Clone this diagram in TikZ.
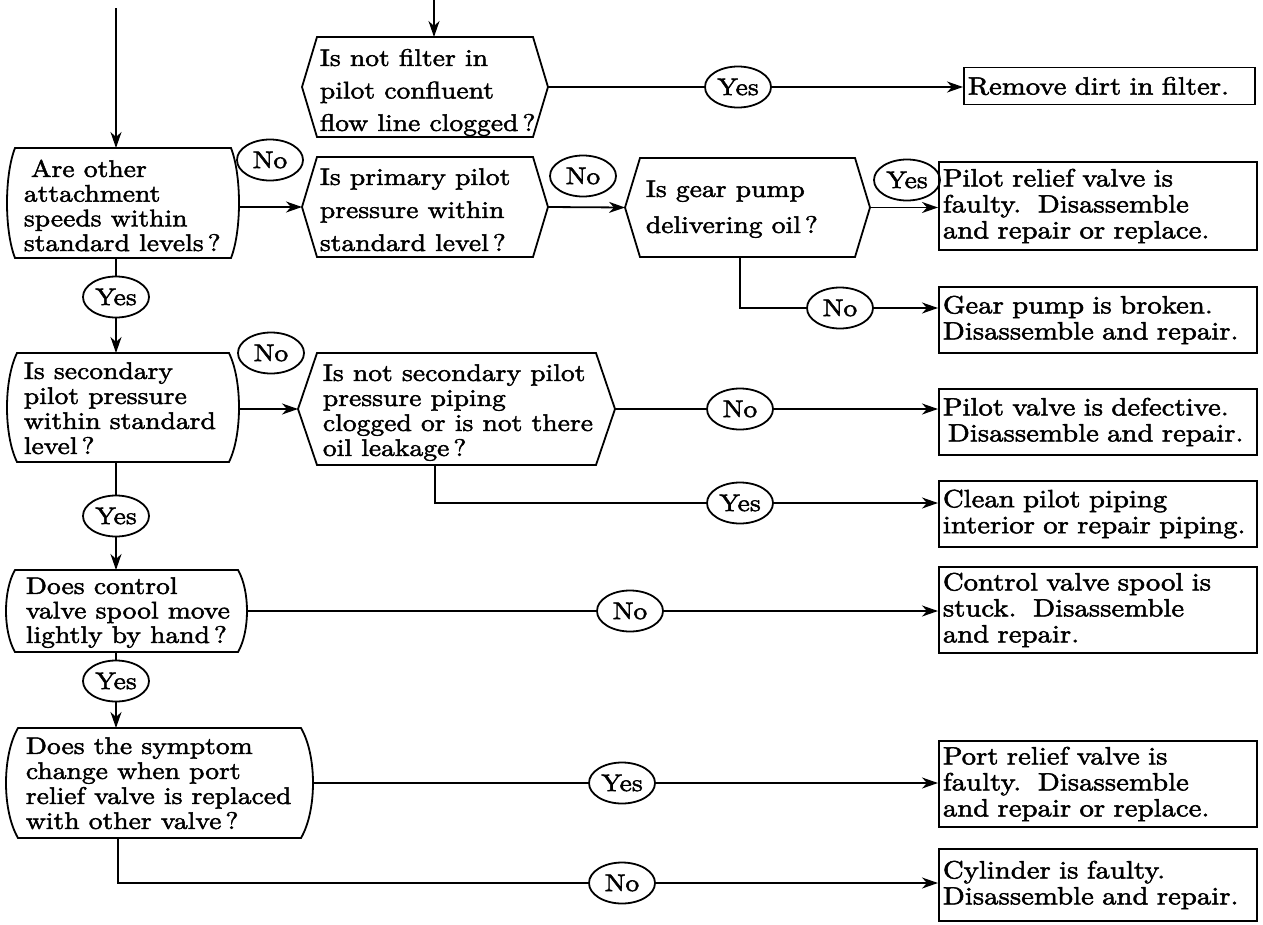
\documentclass[tikz,border=0pt]{standalone}
\usepackage{fontspec}
\setmainfont{lmroman10-regular.otf}[FakeStretch=1.15,FakeBold=2]
\usetikzlibrary{arrows.meta,shapes.geometric}
\newcommand\tstr{\rule{0pt}{19.2pt}}
\newcommand\flowhex[6]{%
  \coordinate (#1-l) at ({#2-#6},{(#4+#5)/2});
  \coordinate (#1-r) at ({#3+#6},{(#4+#5)/2});
  \draw[line join=miter] (#2,#4) -- (#3,#4) -- (#1-r) -- (#3,#5) -- (#2,#5) -- (#1-l) -- cycle;
}
\newcommand\flowcurv[6]{%
  \coordinate (#1-l) at ({#2-#6},{(#4+#5)/2});
  \coordinate (#1-r) at ({#3+#6},{(#4+#5)/2});
  \draw (#2,#4) -- (#3,#4) .. controls ({#3+4*#6/3},{#4+(#5-#4)/4}) and ({#3+4*#6/3},{#5-(#5-#4)/4}) .. (#3,#5) -- (#2,#5) .. controls ({#2-4*#6/3},{#5-(#5-#4)/4}) and ({#2-4*#6/3},{#4+(#5-#4)/4}) .. (#2,#4) -- cycle;
}
\begin{document}
\begin{tikzpicture}[x=1pt,y=-1pt,line width=1.8pt,
  every node/.style={font=\fontsize{24}{25}\selectfont},
  arr/.style={-{Stealth[length=16pt,width=11pt,inset=5pt]}},
  lab/.style={draw,ellipse,inner sep=0pt,minimum width=66pt,minimum height=41pt},
  qtext/.style={anchor=north west,inner sep=0pt,align=left},
  rbox/.style={draw,anchor=west,inner xsep=4pt,inner ysep=0pt,text width=310pt,align=left,
    font=\fontsize{25}{26}\selectfont},
]
\useasboundingbox (0,0) rectangle (1263,924);

% decision shapes
\flowhex{B0}{317}{533}{37}{137}{15}
\flowcurv{A1}{15}{231}{148}{258}{8}
\flowhex{B1}{317}{533}{157}{257}{15}
\flowhex{C1}{640}{855}{158}{257}{15}
\flowcurv{A2}{17}{229}{353}{462}{10}
\flowhex{B2}{317}{596}{353}{465}{19}
\flowcurv{A3}{15}{238}{570}{652}{9}
\flowcurv{A4}{18}{301}{728}{838}{12}

% texts of decisions
\node[qtext,font=\fontsize{24}{32.5}\selectfont] (B0t) at (319,45.8) {\tstr Is not filter in\\pilot confluent\\flow line clogged\,?};
\node[qtext,font=\fontsize{24}{24.7}\selectfont] (A1t) at (23,156.8) {\tstr\hspace*{7pt}Are other\\attachment\\speeds within\\standard levels\,?};
\node[qtext,font=\fontsize{24}{33}\selectfont] (B1t) at (319,164.8) {\tstr Is primary pilot\\pressure within\\standard level\,?};
\node[qtext,font=\fontsize{24}{36}\selectfont] (C1t) at (645,176.8) {\tstr Is gear pump\\delivering oil\,?};
\node[qtext,font=\fontsize{24}{25}\selectfont] (A2t) at (23,358.8) {\tstr Is secondary\\pilot pressure\\within standard\\level\,?};
\node[qtext,font=\fontsize{24}{25}\selectfont] (B2t) at (322,360.8) {\tstr Is not secondary pilot\\pressure piping\\clogged or is not there\\oil leakage\,?};
\node[qtext,font=\fontsize{24}{24.5}\selectfont] (A3t) at (25,573.8) {\tstr Does control\\valve spool move\\lightly by hand\,?};
\node[qtext,font=\fontsize{24}{25}\selectfont] (A4t) at (25,733.8) {\tstr Does the symptom\\change when port\\relief valve is replaced\\with other valve\,?};

% result boxes
\node[rbox,text width=283pt,minimum height=37pt] (R1) at (963,86) {Remove dirt in filter.};
\node[rbox,minimum height=88pt] (R2) at (938,206) {Pilot relief valve is\\faulty.\ \ Disassemble\\and repair or replace.};
\node[rbox,minimum height=66pt] (R3) at (938,320) {Gear pump is broken.\\Disassemble and repair.};
\node[rbox,minimum height=66pt] (R4) at (938,422) {Pilot valve is defective.\\\hspace*{5pt}Disassemble and repair.};
\node[rbox,minimum height=66pt] (R5) at (938,514) {Clean pilot piping\\interior or repair piping.};
\node[rbox,minimum height=86pt] (R6) at (938,610) {Control valve spool is\\stuck.\ \ Disassemble\\and repair.};
\node[rbox,minimum height=86pt] (R7) at (938,784) {Port relief valve is\\faulty.\ \ Disassemble\\and repair or replace.};
\node[rbox,minimum height=72pt] (R8) at (938,885) {Cylinder is faulty.\\Disassemble and repair.};

% labels
\node[lab] (yes0) at (738,87) {Yes};
\node[lab] (no1) at (270,160) {No};
\node[lab] (no2) at (583,176) {No};
\node[lab] (yes3) at (907,180) {Yes};
\node[lab] (no4) at (840,308) {No};
\node[lab] (yes1) at (116,297) {Yes};
\node[lab] (no3) at (271,353) {No};
\node[lab] (no5) at (740,409) {No};
\node[lab] (yes4) at (740,503) {Yes};
\node[lab] (yes2) at (116,516) {Yes};
\node[lab] (no6) at (630,611) {No};
\node[lab] (yes5) at (116,681) {Yes};
\node[lab] (yes6) at (622,783) {Yes};
\node[lab] (no7) at (622,883) {No};

% coordinates
\coordinate (st1) at (116,8);
\coordinate (A1-in) at (116,148);
\coordinate (st2) at (434,0);
\coordinate (B0-in) at (434,37);
\coordinate (A1-out) at (116,258);
\coordinate (A2-in) at (116,353);
\coordinate (A2-out) at (116,462);
\coordinate (A3-in) at (116,570);
\coordinate (A3-out) at (116,652);
\coordinate (A4-in) at (116,728);
\coordinate (A4-out) at (118,838);
\coordinate (B2-out) at (435,465);
\coordinate (C1-out) at (740,257);

% connectors
\draw[arr] (st1) -- (A1-in);
\draw[arr] (st2) -- (B0-in);
\draw (B0-r) -- (yes0);
\draw[arr] (yes0) -- (yes0 -| R1.west);
\draw[arr] (A1-r |- B1-l) -- (B1-l);
\draw[arr] (B1-r) -- (C1-l);
\draw[arr] (C1-r) -- (C1-r -| R2.west);
\draw (C1-out) |- (no4);
\draw[arr] (no4) -- (no4 -| R3.west);
\draw (A1-out) -- (yes1);
\draw[arr] (yes1) -- (A2-in);
\draw[arr] (A2-r |- B2-l) -- (B2-l);
\draw (B2-r) -- (no5);
\draw[arr] (no5) -- (no5 -| R4.west);
\draw (B2-out) |- (yes4);
\draw[arr] (yes4) -- (yes4 -| R5.west);
\draw (A2-out) -- (yes2);
\draw[arr] (yes2) -- (A3-in);
\draw (A3-r) -- (no6);
\draw[arr] (no6) -- (no6 -| R6.west);
\draw (A3-out) -- (yes5);
\draw[arr] (yes5) -- (A4-in);
\draw (A4-r) -- (yes6);
\draw[arr] (yes6) -- (yes6 -| R7.west);
\draw (A4-out) |- (no7);
\draw[arr] (no7) -- (no7 -| R8.west);
\end{tikzpicture}
\end{document}
